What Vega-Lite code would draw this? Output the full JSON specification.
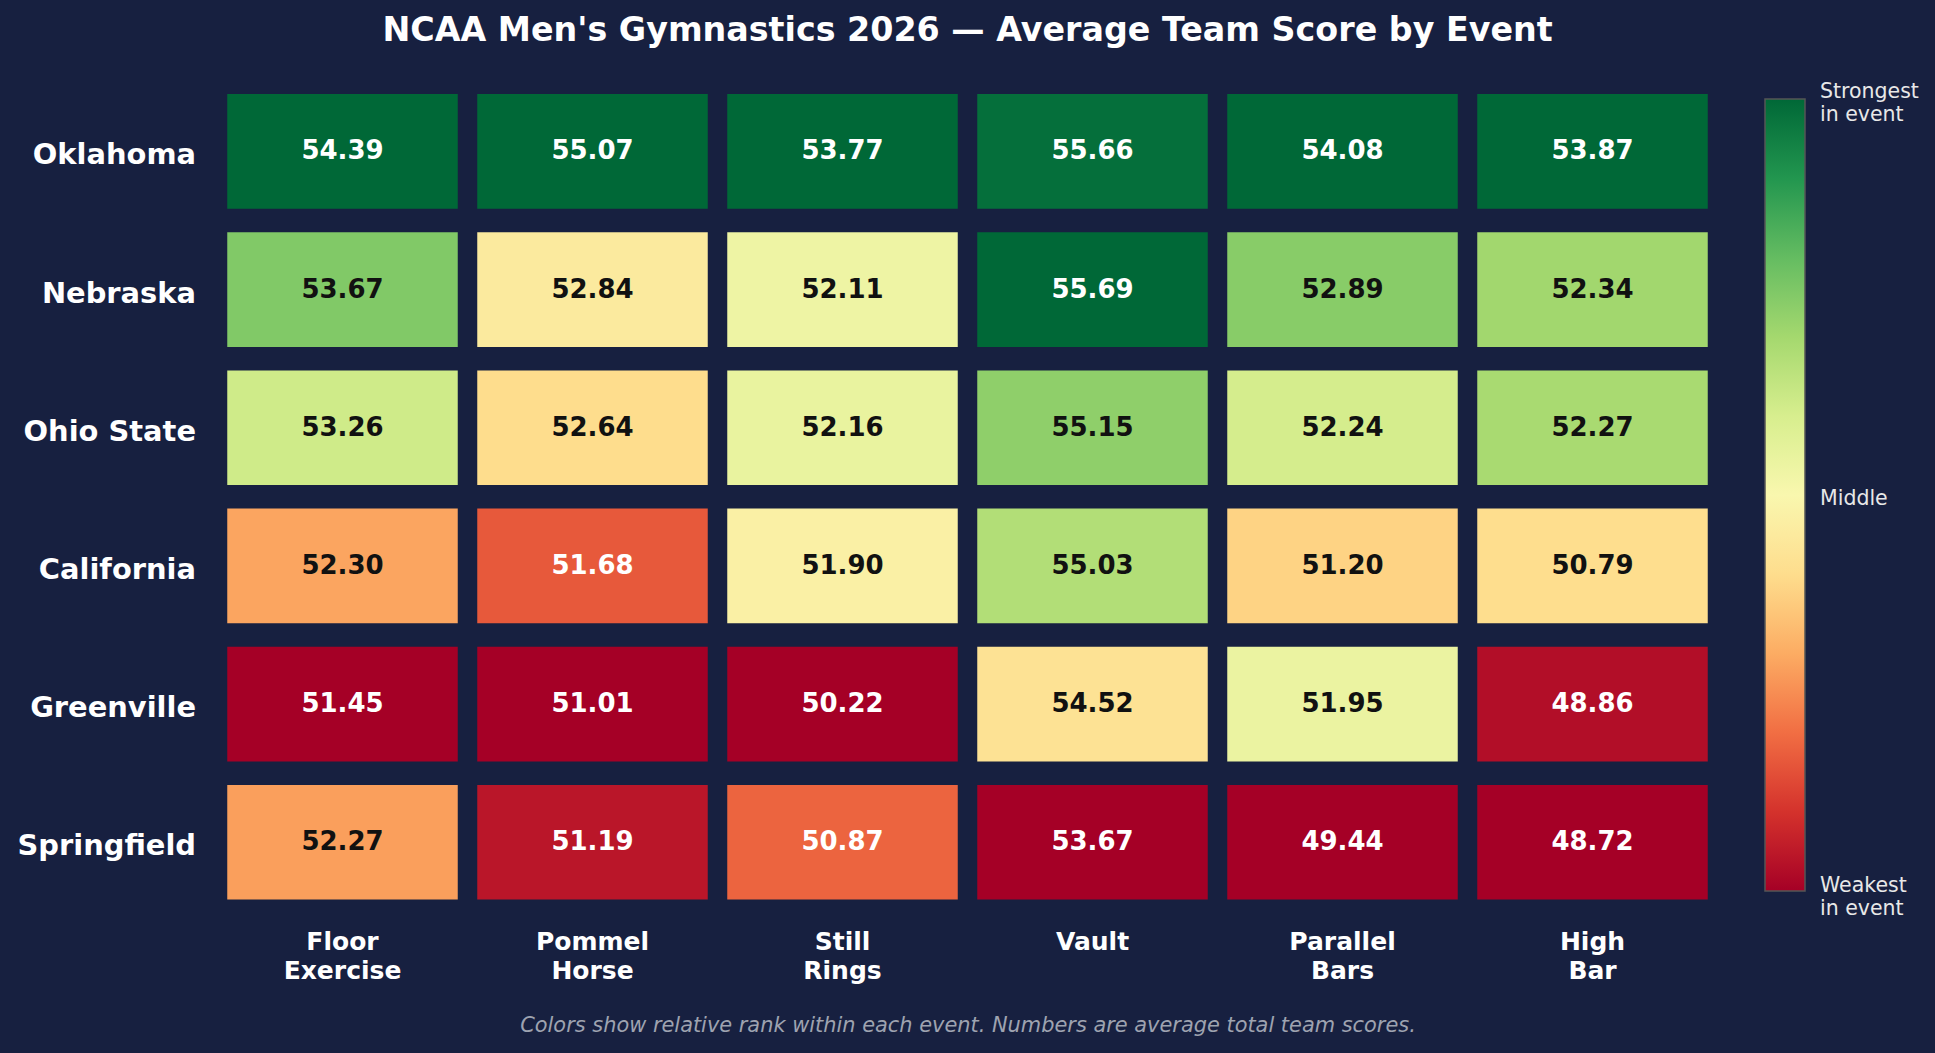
{
  "$schema": "https://vega.github.io/schema/vega-lite/v6.json",
  "width": 1500,
  "height": 829,
  "autosize": {"type": "none"},
  "padding": {"left": 217.5, "top": 82.3, "right": 217.5, "bottom": 141.7},
  "background": "#172040",
  "config": {
    "font": "DejaVu Sans",
    "view": {"stroke": null},
    "axis": {"domain": false, "ticks": false, "grid": false}
  },
  "title": {
    "text": "NCAA Men's Gymnastics 2026 — Average Team Score by Event",
    "color": "#ffffff",
    "fontSize": 33.3,
    "fontWeight": "bold",
    "anchor": "middle",
    "offset": 34
  },
  "data": {
    "values": [
      {"team": "Oklahoma", "event": "Floor Exercise", "score": 54.39},
      {"team": "Oklahoma", "event": "Pommel Horse", "score": 55.07},
      {"team": "Oklahoma", "event": "Still Rings", "score": 53.77},
      {"team": "Oklahoma", "event": "Vault", "score": 55.66},
      {"team": "Oklahoma", "event": "Parallel Bars", "score": 54.08},
      {"team": "Oklahoma", "event": "High Bar", "score": 53.87},
      {"team": "Nebraska", "event": "Floor Exercise", "score": 53.67},
      {"team": "Nebraska", "event": "Pommel Horse", "score": 52.84},
      {"team": "Nebraska", "event": "Still Rings", "score": 52.11},
      {"team": "Nebraska", "event": "Vault", "score": 55.69},
      {"team": "Nebraska", "event": "Parallel Bars", "score": 52.89},
      {"team": "Nebraska", "event": "High Bar", "score": 52.34},
      {"team": "Ohio State", "event": "Floor Exercise", "score": 53.26},
      {"team": "Ohio State", "event": "Pommel Horse", "score": 52.64},
      {"team": "Ohio State", "event": "Still Rings", "score": 52.16},
      {"team": "Ohio State", "event": "Vault", "score": 55.15},
      {"team": "Ohio State", "event": "Parallel Bars", "score": 52.24},
      {"team": "Ohio State", "event": "High Bar", "score": 52.27},
      {"team": "California", "event": "Floor Exercise", "score": 52.30},
      {"team": "California", "event": "Pommel Horse", "score": 51.68},
      {"team": "California", "event": "Still Rings", "score": 51.90},
      {"team": "California", "event": "Vault", "score": 55.03},
      {"team": "California", "event": "Parallel Bars", "score": 51.20},
      {"team": "California", "event": "High Bar", "score": 50.79},
      {"team": "Greenville", "event": "Floor Exercise", "score": 51.45},
      {"team": "Greenville", "event": "Pommel Horse", "score": 51.01},
      {"team": "Greenville", "event": "Still Rings", "score": 50.22},
      {"team": "Greenville", "event": "Vault", "score": 54.52},
      {"team": "Greenville", "event": "Parallel Bars", "score": 51.95},
      {"team": "Greenville", "event": "High Bar", "score": 48.86},
      {"team": "Springfield", "event": "Floor Exercise", "score": 52.27},
      {"team": "Springfield", "event": "Pommel Horse", "score": 51.19},
      {"team": "Springfield", "event": "Still Rings", "score": 50.87},
      {"team": "Springfield", "event": "Vault", "score": 53.67},
      {"team": "Springfield", "event": "Parallel Bars", "score": 49.44},
      {"team": "Springfield", "event": "High Bar", "score": 48.72}
    ]
  },
  "transform": [
    {"joinaggregate": [{"op": "min", "field": "score", "as": "mn"}, {"op": "max", "field": "score", "as": "mx"}], "groupby": ["event"]},
    {"calculate": "(datum.score - datum.mn) / (datum.mx - datum.mn)", "as": "norm"}
  ],
  "encoding": {
    "x": {
      "field": "event",
      "type": "nominal",
      "sort": ["Floor Exercise", "Pommel Horse", "Still Rings", "Vault", "Parallel Bars", "High Bar"],
      "scale": {"paddingInner": 0.078, "paddingOuter": 0.039},
      "axis": {
        "orient": "bottom",
        "labelAngle": 0,
        "labelExpr": "split(datum.label, ' ')",
        "labelFontSize": 25,
        "labelFontWeight": "bold",
        "labelColor": "#ffffff",
        "labelBaseline": "top",
        "labelLineHeight": 29,
        "labelPadding": 18,
        "title": "Colors show relative rank within each event. Numbers are average total team scores.",
        "titleFontSize": 20.9,
        "titleFontStyle": "italic",
        "titleFontWeight": "normal",
        "titleColor": "#9ea3b0",
        "titleBaseline": "middle",
        "titleY": 113.7
      }
    },
    "y": {
      "field": "team",
      "type": "nominal",
      "sort": ["Oklahoma", "Nebraska", "Ohio State", "California", "Greenville", "Springfield"],
      "scale": {"paddingInner": 0.17, "paddingOuter": 0.085},
      "axis": {
        "title": null,
        "labelFontSize": 28.9,
        "labelFontWeight": "bold",
        "labelColor": "#ffffff",
        "labelPadding": 22,
        "labelOffset": 4
      }
    }
  },
  "layer": [
    {
      "mark": {"type": "rect"},
      "encoding": {
        "color": {
          "field": "norm",
          "type": "quantitative",
          "scale": {"scheme": "redyellowgreen", "domain": [0, 1]},
          "legend": {
            "orient": "none",
            "legendX": 1547.5,
            "legendY": 16.7,
            "title": null,
            "values": [0, 0.5, 1],
            "gradientLength": 792,
            "gradientThickness": 40,
            "gradientStrokeColor": "#555555",
            "gradientStrokeWidth": 1.5,
            "labelOverlap": false,
            "labelExpr": "datum.value >= 0.99 ? ['Strongest', 'in event'] : datum.value <= 0.01 ? ['Weakest', 'in event'] : 'Middle'",
            "labelFontSize": 20.5,
            "labelColor": "#e8e8e8",
            "labelBaseline": "middle",
            "labelOffset": 15,
            "encode": {
              "labels": {
                "update": {
                  "dy": {"signal": "datum.value > 0.99 ? -17 : (datum.value < 0.01 ? 5 : 4)"}
                }
              }
            }
          }
        }
      }
    },
    {
      "mark": {"type": "text", "fontSize": 26, "fontWeight": "bold", "baseline": "middle", "dy": 0},
      "encoding": {
        "text": {"field": "score", "type": "quantitative", "format": ".2f"},
        "color": {
          "condition": {"test": "datum.norm < 0.22 || datum.norm > 0.8", "value": "#ffffff"},
          "value": "#111111"
        }
      }
    }
  ]
}
